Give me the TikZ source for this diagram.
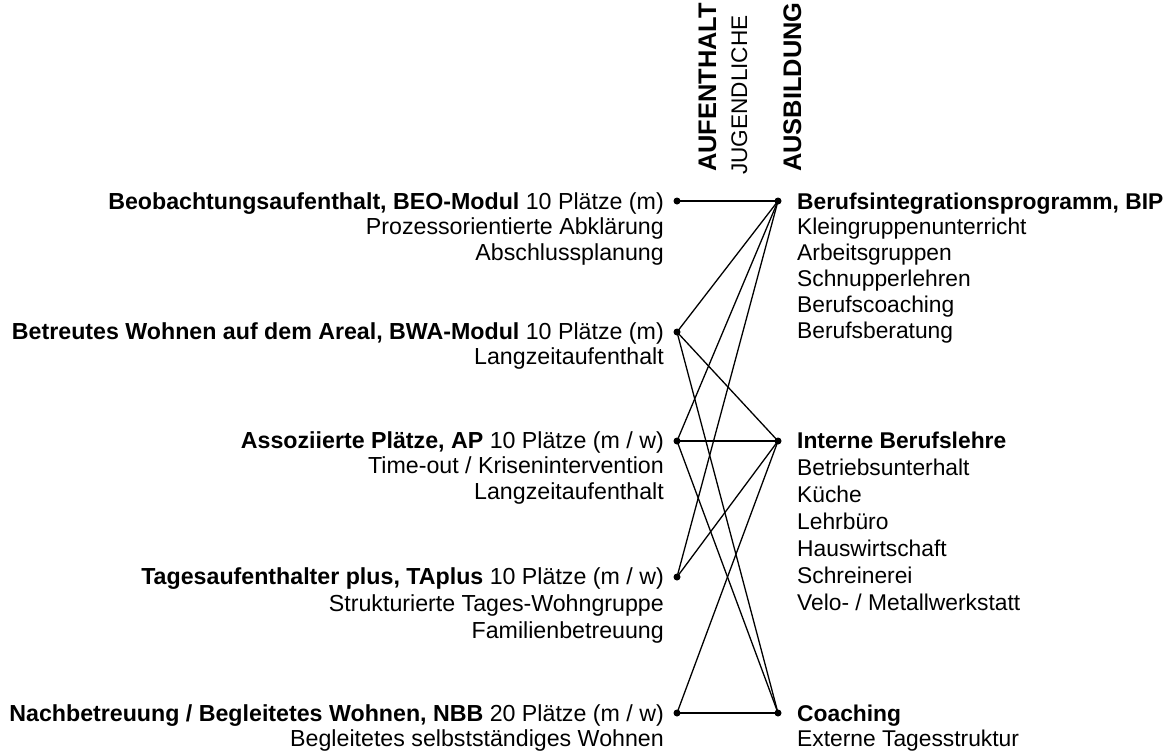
\documentclass[tikz,border=0pt]{standalone}
\usepackage{fontspec}
\setmainfont{Liberation Sans}
\begin{document}
\begin{tikzpicture}[x=1pt,y=-1pt,
  dot/.style={circle,fill=black,inner sep=0pt,minimum size=7pt},
  lbl/.style={inner sep=0pt,font=\fontsize{22.8}{25.8}\selectfont},
  lblwide/.style={inner sep=0pt,font=\fontsize{22.8}{27}\selectfont},
  llbl/.style={inner sep=0pt,font=\fontsize{23.2}{25.8}\selectfont},
  llblwide/.style={inner sep=0pt,font=\fontsize{23.2}{27}\selectfont},
  hdr/.style={inner sep=0pt,rotate=90,anchor=base west,font=\fontsize{25.4}{28}\selectfont},
  hdrthin/.style={inner sep=0pt,rotate=90,anchor=base west,font=\fontsize{22.6}{26}\selectfont},
  link/.style={line width=1.3pt}]
\useasboundingbox (0,0) rectangle (1167,753);

% headers
\node[hdr] (h1) at (716,172) {\textbf{AUFENTHALT}};
\node[hdrthin] (h2) at (747,175) {JUGENDLICHE};
\node[hdr] (h3) at (801,172) {\textbf{AUSBILDUNG}};

% dots
\node[dot] (L1) at (677,201) {};
\node[dot] (L2) at (677,332) {};
\node[dot] (L3) at (677,441) {};
\node[dot] (L4) at (677,577) {};
\node[dot] (L5) at (677,713) {};
\node[dot] (R1) at (778,201) {};
\node[dot] (R2) at (778,441) {};
\node[dot] (R3) at (778,713) {};

% left texts
\node[llbl,anchor=base east] (t1) at (664,209) {\begin{tabular}[t]{@{}r@{}}\textbf{Beobachtungsaufenthalt, BEO-Modul} 10 Plätze (m)\\ Prozessorientierte Abklärung\\ Abschlussplanung\end{tabular}};
\node[llbl,anchor=base east] (t2) at (664,339) {\begin{tabular}[t]{@{}r@{}}\textbf{Betreutes Wohnen auf dem Areal, BWA-Modul} 10 Plätze (m)\\ Langzeitaufenthalt\end{tabular}};
\node[llbl,anchor=base east] (t3) at (664,448) {\begin{tabular}[t]{@{}r@{}}\textbf{Assoziierte Plätze, AP} 10 Plätze (m / w)\\ Time-out / Krisenintervention\\ Langzeitaufenthalt\end{tabular}};
\node[llblwide,anchor=base east] (t4) at (664,584) {\begin{tabular}[t]{@{}r@{}}\textbf{Tagesaufenthalter plus, TAplus} 10 Plätze (m / w)\\ Strukturierte Tages-Wohngruppe\\ Familienbetreuung\end{tabular}};
\node[llbl,anchor=base east] (t5) at (664,721) {\begin{tabular}[t]{@{}r@{}}\textbf{Nachbetreuung / Begleitetes Wohnen, NBB} 20 Plätze (m / w)\\ Begleitetes selbstständiges Wohnen\end{tabular}};

% right texts
\node[lbl,anchor=base west] (r1) at (797,209) {\begin{tabular}[t]{@{}l@{}}\textbf{Berufsintegrationsprogramm, BIP}\\ Kleingruppenunterricht\\ Arbeitsgruppen\\ Schnupperlehren\\ Berufscoaching\\ Berufsberatung\end{tabular}};
\node[lblwide,anchor=base west] (r2) at (797,448) {\begin{tabular}[t]{@{}l@{}}\textbf{Interne Berufslehre}\\ Betriebsunterhalt\\ Küche\\ Lehrbüro\\ Hauswirtschaft\\ Schreinerei\\ Velo- / Metallwerkstatt\end{tabular}};
\node[lbl,anchor=base west] (r3) at (797,721) {\begin{tabular}[t]{@{}l@{}}\textbf{Coaching}\\ Externe Tagesstruktur\end{tabular}};

% links
\foreach \a/\b in {L1/R1,L2/R1,L3/R1,L4/R1,L2/R2,L3/R2,L4/R2,L5/R2,L2/R3,L3/R3,L5/R3}
  \draw[link] (\a.center) -- (\b.center);
\end{tikzpicture}
\end{document}
